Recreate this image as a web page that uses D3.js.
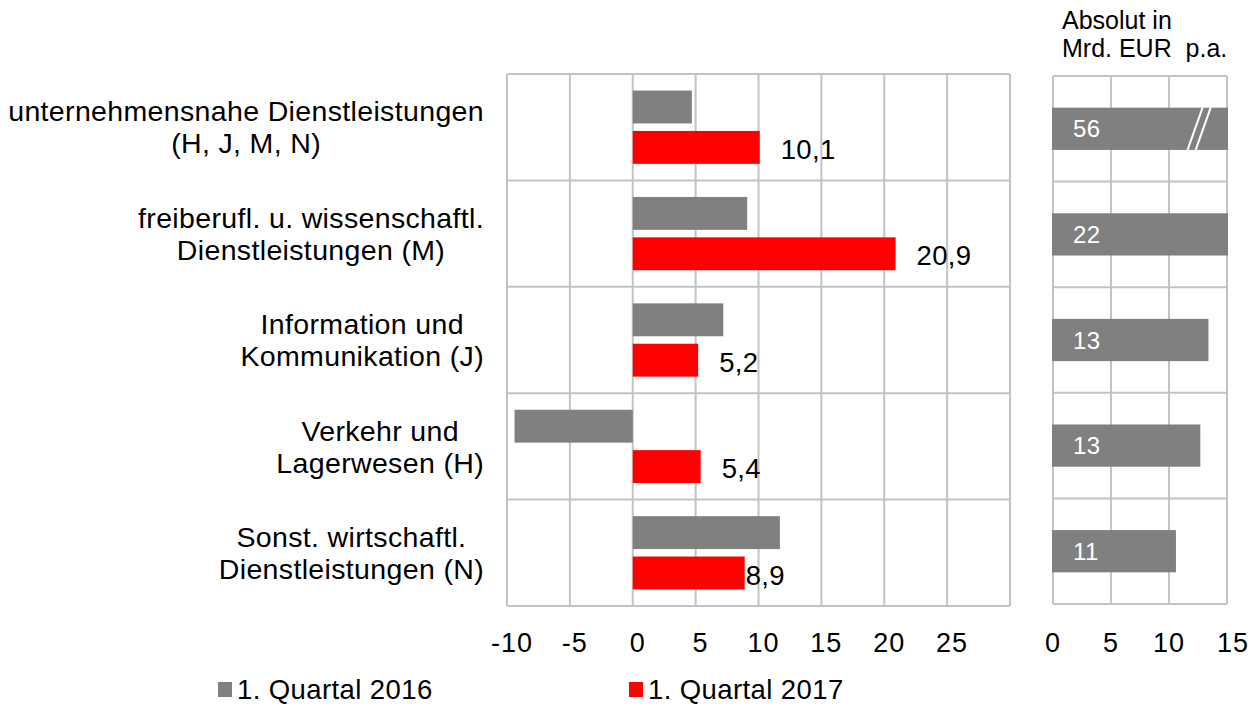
<!DOCTYPE html>
<html>
<head>
<meta charset="utf-8">
<script src="https://cdn.jsdelivr.net/npm/d3@7"></script>
<style>
  body { margin: 0; background: #fff; }
  text { font-family: "Liberation Sans", Arial, sans-serif; fill: #000; }
</style>
</head>
<body>
<svg id="chart" width="1256" height="706"></svg>
<script>
// Daten
const categories = [
  "unternehmensnahe Dienstleistungen\n(H, J, M, N)",
  "freiberufl. u. wissenschaftl.\nDienstleistungen (M)",
  "Information und\nKommunikation (J)",
  "Verkehr und\nLagerwesen (H)",
  "Sonst. wirtschaftl.\nDienstleistungen (N)"
];
const series = ["1. Quartal 2016", "1. Quartal 2017"];
const values2016 = [4.7, 9.1, 7.2, -9.4, 11.7];
const values2017 = [10.1, 20.9, 5.2, 5.4, 8.9];
const absolut = [56, 22, 13.4, 12.7, 10.6];
const mainTicks = [-10, -5, 0, 5, 10, 15, 20, 25];
const absTicks = [0, 5, 10, 15];

const colors = { "1. Quartal 2016": "#808080", "1. Quartal 2017": "#ff0000" };
const gridColor = "#c3c3c3";
const labelGap = [21, 21, 21, 21, 1];   // Abstand Datenbeschriftung (letzte manuell verschoben)

const svg = d3.select("#chart");
const fmt = v => v.toFixed(1).replace(".", ",");

// Skalen Hauptdiagramm
const x = d3.scaleLinear().domain([-10, 30]).range([507, 1010]);
const y = d3.scaleBand().domain(categories).range([74, 606]);
const ySub = d3.scaleBand().domain(series).range([0, y.bandwidth()])
    .paddingInner(0.185).paddingOuter(0.41);

// Skalen rechtes Panel
const xr = d3.scaleLinear().domain([0, 15]).range([1053, 1227]);
const yr = d3.scaleBand().domain(categories).range([76, 604]);

// Gitter Hauptdiagramm
const gMain = svg.append("g");
gMain.selectAll("line.v").data(x.ticks(8))
  .enter().append("line")
  .attr("x1", d => x(d)).attr("x2", d => x(d))
  .attr("y1", y.range()[0]).attr("y2", y.range()[1])
  .attr("stroke", gridColor).attr("stroke-width", 2);
gMain.selectAll("line.h").data(categories.map(c => y(c)).concat([y.range()[1]]))
  .enter().append("line")
  .attr("x1", x.range()[0]).attr("x2", x.range()[1])
  .attr("y1", d => d).attr("y2", d => d)
  .attr("stroke", gridColor).attr("stroke-width", 2);

// Balken
const rows = categories.map((c, i) => ({ cat: c, i: i, v: [values2016[i], values2017[i]] }));
const groups = gMain.selectAll("g.row").data(rows).enter().append("g")
  .attr("transform", d => `translate(0,${y(d.cat)})`);
groups.selectAll("rect").data(d => series.map((s, k) => ({ s: s, v: d.v[k] })))
  .enter().append("rect")
  .attr("x", d => x(Math.min(0, d.v)))
  .attr("width", d => Math.abs(x(d.v) - x(0)))
  .attr("y", d => ySub(d.s))
  .attr("height", ySub.bandwidth())
  .attr("fill", d => colors[d.s]);

// Datenbeschriftung (nur 2017)
groups.append("text")
  .attr("x", d => x(d.v[1]) + labelGap[d.i])
  .attr("y", ySub(series[1]) + ySub.bandwidth() / 2)
  .attr("dy", "0.42em")
  .style("font-size", "27.5px")
  .style("letter-spacing", "0.3px")
  .text(d => fmt(d.v[1]));

// Achsenbeschriftung
svg.selectAll("text.tick").data(mainTicks).enter().append("text")
  .attr("x", d => x(d) + 5).attr("y", 652)
  .attr("text-anchor", "middle")
  .style("font-size", "27px")
  .style("letter-spacing", "1px")
  .text(d => d);

// Kategorienbeschriftung (zentrierte Blöcke, rechtsbündig)
const labelRight = 484;
categories.forEach(c => {
  const lines = c.split("\n");
  const t = svg.append("text").style("font-size", "28.5px")
    .style("letter-spacing", "0.35px").attr("text-anchor", "middle");
  const cy = y(c) + y.bandwidth() / 2;
  lines.forEach((l, k) => {
    t.append("tspan").attr("y", cy + (k - (lines.length - 1) / 2) * 32).attr("dy", "0.36em").text(l);
  });
  let maxW = 0;
  t.selectAll("tspan").each(function() { maxW = Math.max(maxW, this.getComputedTextLength()); });
  t.selectAll("tspan").attr("x", labelRight - maxW / 2);
});

// Rechtes Panel: Gitter
const gAbs = svg.append("g");
gAbs.selectAll("line.v").data(absTicks).enter().append("line")
  .attr("x1", d => xr(d)).attr("x2", d => xr(d))
  .attr("y1", yr.range()[0]).attr("y2", yr.range()[1])
  .attr("stroke", gridColor).attr("stroke-width", 2);
gAbs.selectAll("line.h").data(categories.map(c => yr(c)).concat([yr.range()[1]]))
  .enter().append("line")
  .attr("x1", xr.range()[0]).attr("x2", xr.range()[1])
  .attr("y1", d => d).attr("y2", d => d)
  .attr("stroke", gridColor).attr("stroke-width", 2);

const barH = yr.bandwidth() * 0.4;
const absRows = categories.map((c, i) => ({ cat: c, v: absolut[i] }));
gAbs.selectAll("rect").data(absRows).enter().append("rect")
  .attr("x", xr(0) - 1)
  .attr("y", d => yr(d.cat) + (yr.bandwidth() - barH) / 2)
  .attr("width", d => xr(Math.min(d.v, 15)) - xr(0) + (d.v > 15 ? 2 : 1))
  .attr("height", barH)
  .attr("fill", "#808080");

// Achsenbruch für den grössten Wert
absRows.filter(d => d.v > 40).forEach(d => {
  const top = yr(d.cat) + (yr.bandwidth() - barH) / 2;
  [11.6, 12.3].forEach(b => {
    gAbs.append("line")
      .attr("x1", xr(b)).attr("y1", top + barH)
      .attr("x2", xr(b) + 15).attr("y2", top)
      .attr("stroke", "#fff").attr("stroke-width", 2);
  });
});

gAbs.selectAll("text.val").data(absRows).enter().append("text")
  .attr("x", xr(0) + 20)
  .attr("y", d => yr(d.cat) + yr.bandwidth() / 2)
  .attr("dy", "0.36em")
  .style("font-size", "24px")
  .style("letter-spacing", "0.5px")
  .style("fill", "#fff")
  .text(d => Math.round(d.v));

svg.selectAll("text.abstick").data(absTicks).enter().append("text")
  .attr("x", d => xr(d) + (d === 15 ? 6 : 0)).attr("y", 652)
  .attr("text-anchor", "middle")
  .style("font-size", "27px")
  .style("letter-spacing", "1px")
  .text(d => d);

// Überschrift rechtes Panel
const head = svg.append("text").style("font-size", "25px").style("white-space", "pre");
head.append("tspan").attr("x", 1062).attr("y", 29).text("Absolut in");
head.append("tspan").attr("x", 1062).attr("y", 57).text("Mrd. EUR  p.a.");

// Legende
const legX = [218, 629];
const leg = svg.selectAll("g.legend").data(series).enter().append("g")
  .attr("transform", (d, i) => `translate(${legX[i]},0)`);
leg.append("rect").attr("x", 0).attr("y", 682).attr("width", 14).attr("height", 15)
  .attr("fill", d => colors[d]);
leg.append("text").attr("x", 19).attr("y", 699)
  .style("font-size", "27.5px")
  .style("letter-spacing", "0.4px")
  .text(d => d);
</script>
</body>
</html>
